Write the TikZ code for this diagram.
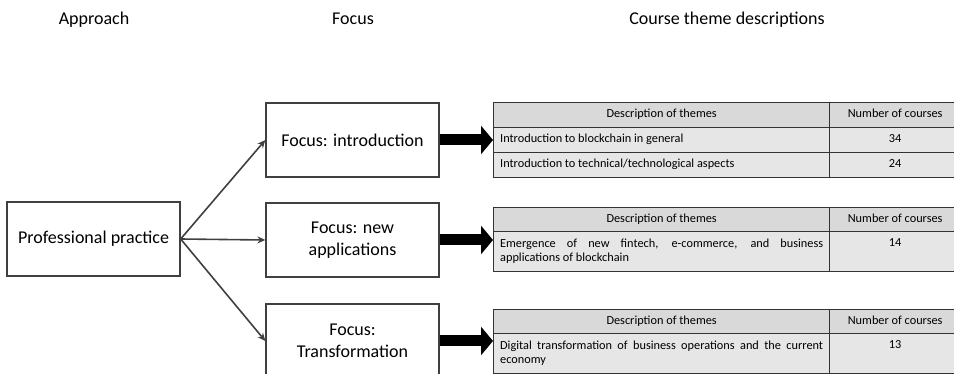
\documentclass[tikz,border=0pt]{standalone}
\usepackage{fontspec}
\setmainfont{Carlito}
\usetikzlibrary{arrows.meta}
\hyphenpenalty=10000
\exhyphenpenalty=10000
\definecolor{boxline}{HTML}{404040}
\definecolor{tabline}{HTML}{333333}
\definecolor{headgray}{HTML}{D9D9D9}
\definecolor{rowgray}{HTML}{E6E6E6}
\tikzset{
  headtext/.style={anchor=base, font=\fontsize{18}{22}\selectfont},
  focusbox/.style={draw=boxline, line width=1.3pt, minimum width=173pt, minimum height=74pt,
    align=center, inner sep=2pt, font=\fontsize{18}{22}\selectfont},
  thinarrow/.style={draw=boxline, line width=1.6pt, -{Stealth[length=8pt,width=7pt]}},
  bigarrow/.style={draw=black, line width=11pt, -{Triangle[length=12pt,width=28pt]}},
  cell/.style={draw=tabline, line width=1.3pt, anchor=north west, inner ysep=0pt,
    font=\fontsize{12.3}{14}\selectfont, execute at begin node=\strut, execute at end node=\strut},
  headcell/.style={cell, fill=headgray, minimum height=25pt},
  desccell/.style={cell, fill=rowgray, text width=323pt, inner xsep=6.5pt, align=justify, minimum height=25pt},
  numcell/.style={cell, fill=rowgray, minimum width=131pt, align=center, minimum height=25pt}
}
\begin{document}
\begin{tikzpicture}[x=1pt,y=-1pt]
  \useasboundingbox (0,0) rectangle (954,374);
  % column titles
  \node[headtext] (h-app) at (94,25) {Approach};
  \node[headtext] (h-foc) at (353,25) {Focus};
  \node[headtext] (h-cou) at (727,25) {Course theme descriptions};
  % approach and focus boxes
  \node[focusbox] (pp) at (93.5,239) {Professional practice};
  \node[focusbox] (f-intro) at (352.5,140) {Focus: introduction};
  \node[focusbox] (f-new) at (352.5,240) {Focus: new\\applications};
  \node[focusbox] (f-trans) at (352.5,341) {Focus:\\Transformation};
  \draw[thinarrow] (pp.east) -- (f-intro.west);
  \draw[thinarrow] (pp.east) -- (f-new.west);
  \draw[thinarrow] (pp.east) -- (f-trans.west);
  % table A
  \node[headcell, minimum width=336pt] (ta-hd) at (493,102) {Description of themes};
  \node[headcell, minimum width=131pt] (ta-hn) at (829,102) {Number of courses};
  \node[desccell] (ta-d1) at (493,127) {Introduction to blockchain in general};
  \node[numcell] (ta-n1) at (829,127) {34};
  \node[desccell] (ta-d2) at (493,152) {Introduction to technical/technological aspects};
  \node[numcell] (ta-n2) at (829,152) {24};
  % table B
  \node[headcell, minimum width=336pt, minimum height=24pt] (tb-hd) at (493,207) {Description of themes};
  \node[headcell, minimum width=131pt, minimum height=24pt] (tb-hn) at (829,207) {Number of courses};
  \node[desccell, minimum height=40pt] (tb-d1) at (493,231) {Emergence of new fintech, e-commerce, and business\linebreak applications of blockchain};
  \node[numcell, minimum height=40pt] (tb-n1) at (829,231) {14\\~};
  % table C
  \node[headcell, minimum width=336pt, minimum height=24pt] (tc-hd) at (493,309) {Description of themes};
  \node[headcell, minimum width=131pt, minimum height=24pt] (tc-hn) at (829,309) {Number of courses};
  \node[desccell, minimum height=40pt] (tc-d1) at (493,333) {Digital transformation of business operations and the current\linebreak economy};
  \node[numcell, minimum height=40pt] (tc-n1) at (829,333) {13\\~};
  % block arrows
  \draw[bigarrow] (f-intro.east) -- (f-intro.east -| ta-d1.west);
  \draw[bigarrow] (f-new.east) -- (f-new.east -| tb-d1.west);
  \draw[bigarrow] (f-trans.east) -- (f-trans.east -| tc-d1.west);
\end{tikzpicture}
\end{document}
